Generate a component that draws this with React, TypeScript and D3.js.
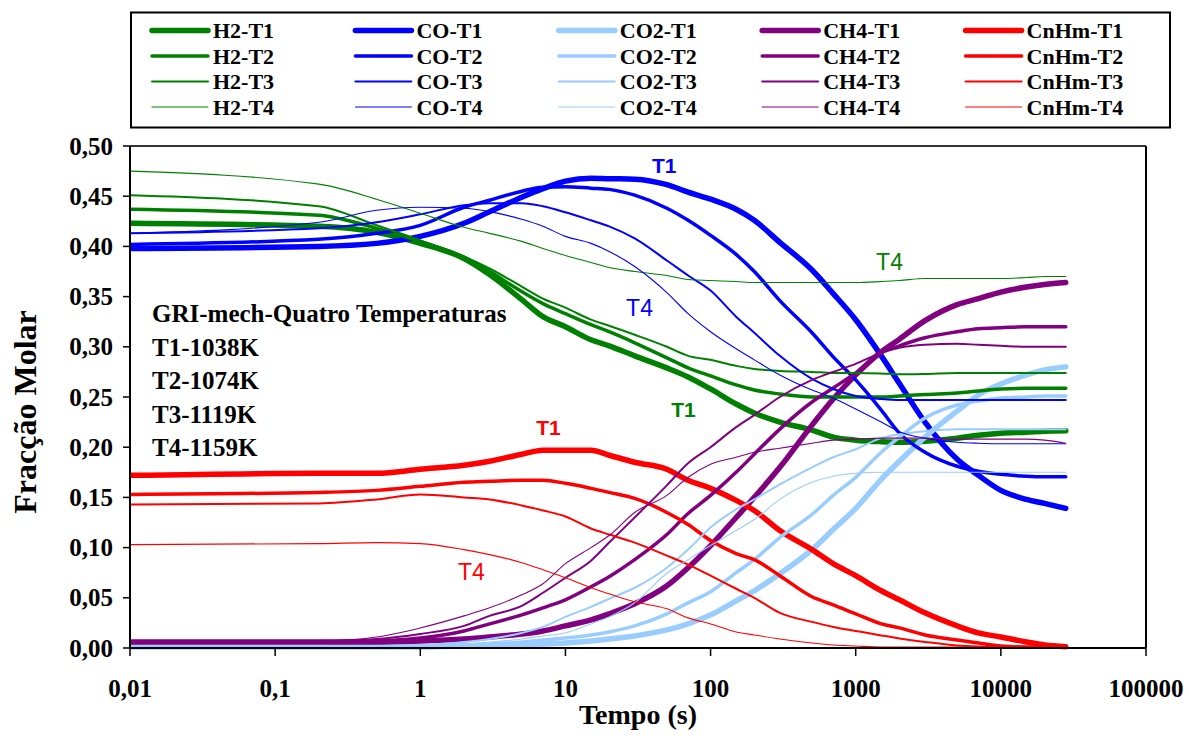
import React from 'react';
import * as d3 from 'd3';

// ---------- DATA ----------
const times = [0.01, 0.2, 0.5, 1, 2, 3, 5, 7, 10, 15, 20, 30, 50, 70, 100, 150, 200, 300, 500, 700, 1000, 1500, 2000, 3000, 5000, 7000, 10000, 15000, 20000, 28000];

const species = ['H2', 'CO', 'CO2', 'CH4', 'CnHm'];
const temps = ['T1', 'T2', 'T3', 'T4'];
const speciesColors = ['#008000', '#0000FF', '#99CCFF', '#800080', '#FF0000'];
const tempWidths = [5.5, 3.5, 2, 1.1];

const h2T1 = [0.423, 0.420, 0.414, 0.403, 0.388, 0.372, 0.347, 0.330, 0.320, 0.307, 0.301, 0.291, 0.279, 0.270, 0.258, 0.243, 0.234, 0.225, 0.217, 0.210, 0.207, 0.2055, 0.205, 0.206, 0.209, 0.212, 0.214, 0.215, 0.216, 0.2165];
const h2T2 = [0.437, 0.431, 0.418, 0.405, 0.389, 0.375, 0.355, 0.343, 0.333, 0.322, 0.315, 0.304, 0.289, 0.279, 0.271, 0.262, 0.257, 0.253, 0.250, 0.250, 0.250, 0.250, 0.251, 0.2525, 0.254, 0.256, 0.258, 0.2586, 0.2586, 0.2586];
const h2T3 = [0.451, 0.440, 0.421, 0.406, 0.390, 0.378, 0.360, 0.348, 0.339, 0.327, 0.321, 0.312, 0.300, 0.291, 0.287, 0.281, 0.278, 0.276, 0.275, 0.274, 0.274, 0.2735, 0.2726, 0.273, 0.274, 0.274, 0.274, 0.274, 0.274, 0.274];
const h2T4 = [0.475, 0.462, 0.447, 0.433, 0.419, 0.413, 0.405, 0.398, 0.391, 0.384, 0.379, 0.375, 0.371, 0.367, 0.366, 0.365, 0.364, 0.364, 0.364, 0.364, 0.364, 0.365, 0.366, 0.368, 0.368, 0.368, 0.368, 0.369, 0.370, 0.370];

const coT1 = [0.398, 0.400, 0.403, 0.410, 0.423, 0.4345, 0.449, 0.4575, 0.465, 0.468, 0.4675, 0.467, 0.4615, 0.454, 0.447, 0.437, 0.426, 0.404, 0.3765, 0.353, 0.327, 0.291, 0.2635, 0.225, 0.188, 0.172, 0.157, 0.148, 0.144, 0.139];
const coT2 = [0.402, 0.407, 0.413, 0.421, 0.439, 0.446, 0.455, 0.459, 0.4595, 0.458, 0.4568, 0.451, 0.438, 0.426, 0.411, 0.392, 0.375, 0.346, 0.314, 0.290, 0.267, 0.237, 0.214, 0.195, 0.181, 0.176, 0.173, 0.171, 0.1705, 0.1705];
const coT3 = [0.413, 0.418, 0.424, 0.432, 0.441, 0.443, 0.443, 0.440, 0.434, 0.426, 0.420, 0.408, 0.386, 0.371, 0.356, 0.330, 0.314, 0.291, 0.268, 0.258, 0.251, 0.248, 0.247, 0.247, 0.247, 0.247, 0.247, 0.247, 0.247, 0.247];
const coT4 = [0.413, 0.424, 0.436, 0.439, 0.438, 0.4346, 0.427, 0.420, 0.410, 0.403, 0.395, 0.380, 0.354, 0.333, 0.315, 0.298, 0.287, 0.272, 0.257, 0.249, 0.238, 0.225, 0.2155, 0.209, 0.205, 0.204, 0.2035, 0.2035, 0.2035, 0.2035];

const co2T1 = [0.001, 0.001, 0.001, 0.001, 0.002, 0.002, 0.003, 0.004, 0.005, 0.007, 0.009, 0.012, 0.018, 0.024, 0.033, 0.047, 0.057, 0.074, 0.098, 0.118, 0.139, 0.168, 0.186, 0.210, 0.236, 0.252, 0.263, 0.272, 0.277, 0.280];
const co2T2 = [0.001, 0.001, 0.001, 0.002, 0.003, 0.004, 0.006, 0.008, 0.010, 0.013, 0.016, 0.022, 0.034, 0.045, 0.056, 0.075, 0.088, 0.110, 0.133, 0.152, 0.170, 0.195, 0.210, 0.229, 0.242, 0.246, 0.249, 0.250, 0.251, 0.251];
const co2T3 = [0.001, 0.001, 0.002, 0.003, 0.006, 0.009, 0.015, 0.021, 0.031, 0.041, 0.049, 0.060, 0.080, 0.098, 0.120, 0.138, 0.148, 0.163, 0.180, 0.190, 0.198, 0.209, 0.213, 0.216, 0.218, 0.218, 0.218, 0.218, 0.218, 0.218];
const co2T4 = [0.001, 0.001, 0.001, 0.002, 0.004, 0.006, 0.009, 0.012, 0.015, 0.024, 0.031, 0.045, 0.0745, 0.088, 0.102, 0.117, 0.128, 0.148, 0.165, 0.171, 0.174, 0.175, 0.175, 0.175, 0.175, 0.175, 0.175, 0.175, 0.175, 0.175];

const ch4T1 = [0.006, 0.006, 0.006, 0.007, 0.009, 0.011, 0.014, 0.017, 0.022, 0.028, 0.034, 0.044, 0.062, 0.080, 0.102, 0.130, 0.150, 0.180, 0.222, 0.248, 0.272, 0.295, 0.3076, 0.326, 0.342, 0.348, 0.3545, 0.3595, 0.362, 0.364];
const ch4T2 = [0.006, 0.006, 0.007, 0.010, 0.017, 0.024, 0.033, 0.040, 0.048, 0.061, 0.071, 0.088, 0.113, 0.134, 0.152, 0.175, 0.193, 0.218, 0.245, 0.259, 0.274, 0.294, 0.301, 0.309, 0.315, 0.318, 0.319, 0.320, 0.320, 0.320];
const ch4T3 = [0.006, 0.007, 0.009, 0.014, 0.022, 0.032, 0.042, 0.055, 0.070, 0.087, 0.105, 0.130, 0.162, 0.184, 0.200, 0.220, 0.232, 0.250, 0.267, 0.275, 0.283, 0.294, 0.299, 0.302, 0.303, 0.302, 0.301, 0.300, 0.300, 0.300];
const ch4T4 = [0.006, 0.007, 0.011, 0.020, 0.032, 0.040, 0.053, 0.064, 0.084, 0.100, 0.112, 0.135, 0.152, 0.170, 0.183, 0.190, 0.195, 0.199, 0.204, 0.207, 0.208, 0.209, 0.209, 0.209, 0.208, 0.208, 0.208, 0.208, 0.207, 0.204];

const cnhmT1 = [0.172, 0.174, 0.174, 0.178, 0.182, 0.186, 0.193, 0.197, 0.197, 0.197, 0.192, 0.185, 0.178, 0.167, 0.159, 0.147, 0.137, 0.117, 0.098, 0.084, 0.072, 0.057, 0.048, 0.035, 0.022, 0.015, 0.011, 0.006, 0.003, 0.0013];
const cnhmT2 = [0.153, 0.155, 0.157, 0.161, 0.165, 0.166, 0.167, 0.167, 0.164, 0.159, 0.155, 0.149, 0.135, 0.123, 0.107, 0.094, 0.088, 0.072, 0.051, 0.043, 0.034, 0.024, 0.020, 0.013, 0.008, 0.005, 0.002, 0.001, 0.001, 0.001];
const cnhmT3 = [0.143, 0.144, 0.148, 0.153, 0.150, 0.148, 0.142, 0.137, 0.131, 0.119, 0.113, 0.105, 0.092, 0.083, 0.072, 0.059, 0.050, 0.035, 0.026, 0.021, 0.017, 0.0125, 0.0095, 0.006, 0.0025, 0.0015, 0.001, 0.001, 0.001, 0.001];
const cnhmT4 = [0.103, 0.104, 0.105, 0.104, 0.098, 0.093, 0.085, 0.078, 0.070, 0.060, 0.054, 0.046, 0.039, 0.030, 0.024, 0.016, 0.013, 0.009, 0.005, 0.003, 0.002, 0.001, 0.001, 0.001, 0.001, 0.001, 0.001, 0.001, 0.001, 0.001];

const seriesTable = [
  [h2T1, h2T2, h2T3, h2T4],
  [coT1, coT2, coT3, coT4],
  [co2T1, co2T2, co2T3, co2T4],
  [ch4T1, ch4T2, ch4T3, ch4T4],
  [cnhmT1, cnhmT2, cnhmT3, cnhmT4],
];

const xTicks = [0.01, 0.1, 1, 10, 100, 1000, 10000, 100000];
const xTickLabels = ['0,01', '0,1', '1', '10', '100', '1000', '10000', '100000'];
const yTicks = [0, 0.05, 0.1, 0.15, 0.2, 0.25, 0.3, 0.35, 0.4, 0.45, 0.5];

const infoLines = ['GRI-mech-Quatro Temperaturas', 'T1-1038K', 'T2-1074K', 'T3-1119K', 'T4-1159K'];

// annotations: [text, time, value, colorIndex, bold]
const annotations: [string, number, number, number, boolean][] = [
  ['T1', 48, 0.473, 1, true],
  ['T4', 32.4, 0.3307, 1, false],
  ['T4', 1710, 0.3765, 0, false],
  ['T1', 65, 0.230, 0, true],
  ['T1', 7.64, 0.2122, 4, true],
  ['T4', 2.25, 0.0677, 4, false],
];

// ---------- LAYOUT ----------
const W = 1189, H = 738;
const L = 130, R = 1146, T = 146, B = 648;
const serif = '"Liberation Serif", "Times New Roman", serif';
const sans = '"Liberation Sans", Arial, sans-serif';

export default function App() {
  const x = d3.scaleLog().domain([0.01, 100000]).range([L, R]);
  const y = d3.scaleLinear().domain([0, 0.5]).range([B, T]);
  const line = d3.line<[number, number]>()
    .x(d => x(d[0]))
    .y(d => y(d[1]))
    .curve(d3.curveMonotoneX);
  const fmtY = (v: number) => d3.format('.2f')(v).replace('.', ',');

  const drawOrder: { s: number; t: number }[] = [];
  temps.forEach((_, ti) => species.forEach((_, si) => drawOrder.push({ s: si, t: ti })));

  const legendX0 = 152, legendDX = 203.4, legendY0 = 30.5, legendDY = 25.5;

  return (
    <svg width={W} height={H} style={{ position: 'absolute', left: 0, top: 0, background: '#fff' }}>
      <rect x={0} y={0} width={W} height={H} fill="#fff" />
      <defs>
        <clipPath id="plotclip">
          <rect x={L} y={T - 2} width={R - L} height={B - T + 4} />
        </clipPath>
      </defs>

      {/* legend */}
      <rect x={131} y={12.5} width={1039} height={115} fill="#fff" stroke="#000" strokeWidth={2} />
      {temps.map((tn, ti) =>
        species.map((sn, si) => {
          const lx = legendX0 + si * legendDX;
          const ly = legendY0 + ti * legendDY;
          return (
            <g key={`lg-${si}-${ti}`}>
              <line x1={lx} x2={lx + 56} y1={ly} y2={ly} stroke={speciesColors[si]} strokeWidth={tempWidths[ti]} strokeLinecap="round" />
              <text x={lx + 61} y={ly + 7.5} fontFamily={serif} fontWeight="bold" fontSize={22} fill="#000">{`${sn}-${tn}`}</text>
            </g>
          );
        })
      )}

      {/* plot frame */}
      <line x1={L} x2={R} y1={T} y2={T} stroke="#333" strokeWidth={2} />
      <line x1={R} x2={R} y1={T} y2={B} stroke="#000" strokeWidth={2} />

      {/* series */}
      <g clipPath="url(#plotclip)">
        {drawOrder.map(({ s, t }) => {
          const vals = seriesTable[s][t];
          const pts: [number, number][] = times.map((tt, i) => [tt, vals[i]]);
          return (
            <path key={`s-${s}-${t}`} d={line(pts) || ''} fill="none" stroke={speciesColors[s]}
              strokeWidth={tempWidths[t]} strokeLinejoin="round" strokeLinecap="round" />
          );
        })}
      </g>

      {/* axes */}
      <line x1={L} x2={L} y1={T} y2={B} stroke="#000" strokeWidth={2} />
      <line x1={L} x2={R} y1={B} y2={B} stroke="#000" strokeWidth={2} />
      {yTicks.map(v => (
        <g key={`yt-${v}`}>
          <line x1={L - 7} x2={L} y1={y(v)} y2={y(v)} stroke="#000" strokeWidth={1.5} />
          <text x={113} y={y(v) + 8.5} textAnchor="end" fontFamily={serif} fontWeight="bold" fontSize={25} fill="#000">{fmtY(v)}</text>
        </g>
      ))}
      {xTicks.map((v, i) => (
        <g key={`xt-${v}`}>
          <line x1={x(v)} x2={x(v)} y1={B} y2={B + 8} stroke="#000" strokeWidth={1.5} />
          <text x={x(v)} y={697} textAnchor="middle" fontFamily={serif} fontWeight="bold" fontSize={25} fill="#000">{xTickLabels[i]}</text>
        </g>
      ))}

      {/* axis titles */}
      <text x={(L + R) / 2} y={724} textAnchor="middle" fontFamily={serif} fontWeight="bold" fontSize={28} fill="#000">Tempo (s)</text>
      <text transform={`translate(36, 412) rotate(-90)`} textAnchor="middle" fontFamily={serif} fontWeight="bold" fontSize={32} fill="#000">Fracção Molar</text>

      {/* info text */}
      {infoLines.map((s, i) => (
        <text key={`info-${i}`} x={152} y={322 + i * 33.5} fontFamily={serif} fontWeight="bold" fontSize={25} fill="#000">{s}</text>
      ))}

      {/* annotations */}
      {annotations.map(([txt, tt, vv, ci, bold], i) => (
        <text key={`an-${i}`} x={x(tt)} y={y(vv)} textAnchor="middle" fontFamily={sans}
          fontWeight={bold ? 'bold' : 'normal'} fontSize={bold ? 21 : 23} fill={ci === 0 ? '#008000' : speciesColors[ci]}>{txt}</text>
      ))}
    </svg>
  );
}
